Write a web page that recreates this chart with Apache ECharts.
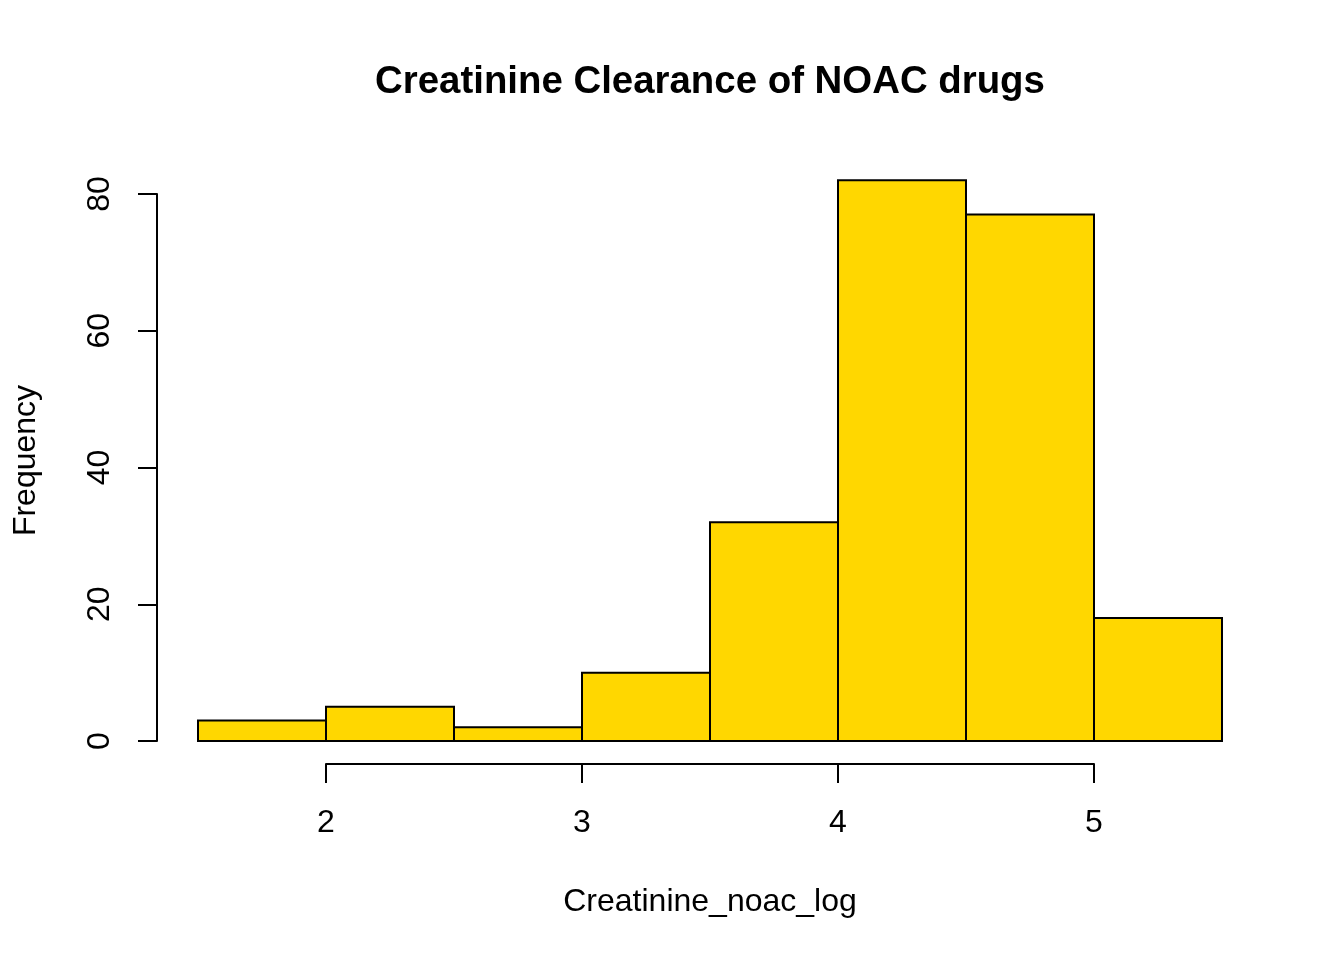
<!DOCTYPE html>
<html>
<head>
<meta charset="utf-8">
<script src="https://cdn.jsdelivr.net/npm/echarts@6/dist/echarts.min.js"></script>
<style>
  html, body { margin: 0; padding: 0; background: #fff; }
  #chart { width: 1344px; height: 960px; }
</style>
</head>
<body>
<div id="chart"></div>
<script>
// histogram bins (left edge, right edge) and counts
var binStart = [1.5, 2.0, 2.5, 3.0, 3.5, 4.0, 4.5, 5.0];
var binEnd = [2.0, 2.5, 3.0, 3.5, 4.0, 4.5, 5.0, 5.5];
var counts = [3, 5, 2, 10, 32, 82, 77, 18];
var xTicks = [2, 3, 4, 5];
var yTicks = [0, 20, 40, 60, 80];

var font = 'Liberation Sans, Arial, Helvetica, sans-serif';

var data = []
binStart.forEach(function(s, i) {
  data.push([s, binEnd[i], counts[i]])
})

var myChart = echarts.init(document.getElementById('chart'));
var option = {
  backgroundColor: '#fff',
  animation: false,
  title: {
    text: 'Creatinine Clearance of NOAC drugs',
    left: 705,
    textAlign: 'center',
    top: 58,
    textStyle: { fontFamily: font, fontSize: 38.4, fontWeight: 'bold', color: '#000' }
  },
  grid: { left: 326, right: 250, top: 194, bottom: 219 },
  xAxis: {
    type: 'value',
    min: xTicks[0],
    max: xTicks[xTicks.length - 1],
    interval: 1,
    offset: 23,
    name: 'Creatinine_noac_log',
    nameLocation: 'middle',
    nameGap: 122,
    nameTextStyle: { fontFamily: font, fontSize: 32, color: '#000' },
    axisLine: { show: true, onZero: false, lineStyle: { color: '#000', width: 2 } },
    axisTick: { show: true, length: 19, lineStyle: { color: '#000', width: 2 } },
    axisLabel: { fontFamily: font, fontSize: 32, color: '#000', margin: 43 },
    splitLine: { show: false }
  },
  yAxis: {
    type: 'value',
    min: yTicks[0],
    max: yTicks[yTicks.length - 1],
    interval: 20,
    offset: 169,
    name: 'Frequency',
    nameLocation: 'middle',
    nameRotate: 90,
    nameGap: 115,
    nameTextStyle: { fontFamily: font, fontSize: 32, color: '#000', padding: [0, 0, 0, 14] },
    axisLine: { show: true, onZero: false, lineStyle: { color: '#000', width: 2 } },
    axisTick: { show: true, length: 19, lineStyle: { color: '#000', width: 2 } },
    axisLabel: { fontFamily: font, fontSize: 32, color: '#000', rotate: 90, margin: 41 },
    splitLine: { show: false }
  },
  series: [{
    type: 'custom',
    clip: false,
    data: data,
    encode: { x: [0, 1], y: 2 },
    renderItem: function(params, api) {
      var p0 = api.coord([api.value(0), api.value(2)]);
      var p1 = api.coord([api.value(1), 0]);
      return {
        type: 'rect',
        shape: { x: p0[0], y: p0[1], width: p1[0] - p0[0], height: p1[1] - p0[1] },
        style: { fill: '#FFD700', stroke: '#000', lineWidth: 2 }
      };
    }
  }]
};
myChart.setOption(option);
</script>
</body>
</html>
